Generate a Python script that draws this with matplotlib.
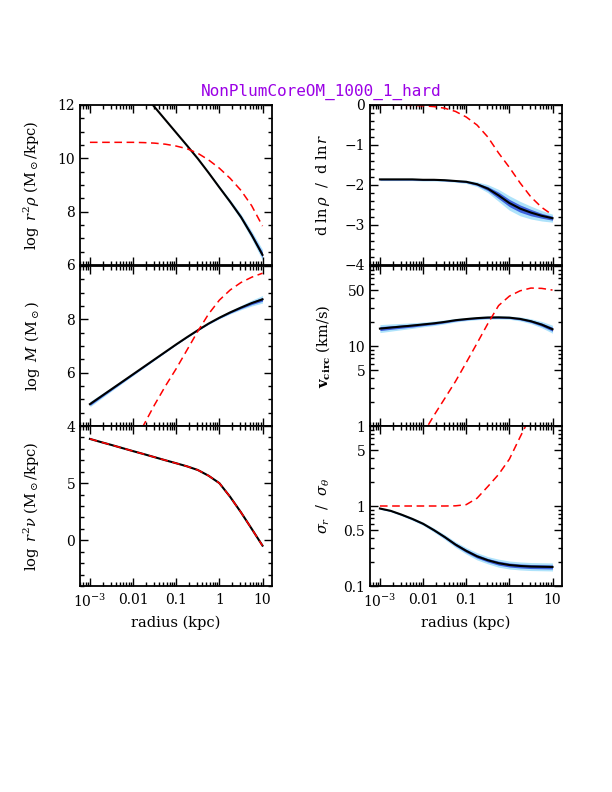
import numpy as np
import matplotlib.pyplot as plt
from matplotlib.ticker import FixedLocator, FixedFormatter, MultipleLocator, NullFormatter

plt.rcParams['font.family'] = ['DejaVu Serif']
plt.rcParams['mathtext.fontset'] = 'dejavuserif'

titulo = 'NonPlumCoreOM_1000_1_hard'

# radios de muestreo (log kpc)
log_radio = [-3.0, -2.75, -2.5, -2.25, -2.0, -1.75, -1.5, -1.25, -1.0,
             -0.75, -0.5, -0.25, 0.0, 0.25, 0.5, 0.75, 1.0]

# log r^2 rho
rho_ajuste = [14.8, 14.32, 13.84, 13.36, 12.88, 12.40, 11.92, 11.44, 10.96,
              10.48, 9.99, 9.46, 8.91, 8.37, 7.80, 7.12, 6.38]
rho_modelo = [10.6, 10.6, 10.6, 10.6, 10.6, 10.59, 10.57, 10.53, 10.46,
              10.36, 10.19, 9.94, 9.63, 9.25, 8.80, 8.22, 7.46]
rho_2s = [0.02, 0.02, 0.02, 0.02, 0.02, 0.02, 0.02, 0.02, 0.02,
          0.02, 0.02, 0.03, 0.05, 0.08, 0.11, 0.15, 0.20]
rho_1s = [0.01, 0.01, 0.01, 0.01, 0.01, 0.01, 0.01, 0.01, 0.01,
          0.01, 0.01, 0.015, 0.025, 0.04, 0.055, 0.075, 0.10]

# pendiente d ln rho / d ln r
pend_ajuste = [-1.86, -1.86, -1.86, -1.86, -1.87, -1.87, -1.88, -1.90, -1.92,
               -1.98, -2.09, -2.26, -2.45, -2.59, -2.69, -2.77, -2.83]
pend_modelo = [0.0, 0.0, -0.005, -0.01, -0.02, -0.04, -0.08, -0.16, -0.30,
               -0.50, -0.80, -1.20, -1.56, -1.95, -2.30, -2.56, -2.75]
pend_2s = [0.03, 0.03, 0.03, 0.03, 0.03, 0.03, 0.03, 0.03, 0.04,
           0.06, 0.10, 0.15, 0.18, 0.18, 0.16, 0.13, 0.10]
pend_1s = [0.015, 0.015, 0.015, 0.015, 0.015, 0.015, 0.015, 0.015, 0.02,
           0.03, 0.05, 0.08, 0.09, 0.09, 0.08, 0.06, 0.05]

# log M
masa_ajuste = [4.82, 5.10, 5.38, 5.66, 5.94, 6.22, 6.50, 6.78, 7.06,
               7.33, 7.59, 7.84, 8.06, 8.26, 8.44, 8.61, 8.75]
masa_modelo = [0.3, 1.05, 1.8, 2.55, 3.3, 4.05, 4.8, 5.5, 6.15,
               6.85, 7.55, 8.2, 8.72, 9.1, 9.38, 9.58, 9.73]
masa_2s = [0.10, 0.085, 0.07, 0.06, 0.05, 0.04, 0.03, 0.025, 0.02,
           0.02, 0.02, 0.03, 0.04, 0.06, 0.08, 0.11, 0.14]
masa_1s = [0.05, 0.04, 0.035, 0.03, 0.025, 0.02, 0.015, 0.012, 0.01,
           0.01, 0.01, 0.015, 0.02, 0.03, 0.04, 0.055, 0.07]

# v circ (km/s)
vcirc_ajuste = [16.5, 17.0, 17.5, 18.0, 18.6, 19.2, 20.0, 21.0, 21.7,
                22.3, 22.7, 22.8, 22.6, 21.8, 20.4, 18.5, 16.2]
vcirc_modelo = [0.09, 0.155, 0.27, 0.47, 0.8, 1.35, 2.2, 3.6, 6.2,
                10.8, 19.0, 32.0, 42.0, 49.0, 53.0, 52.5, 50.0]
vcirc_2s = [0.05, 0.045, 0.04, 0.035, 0.03, 0.028, 0.025, 0.022, 0.02,
            0.02, 0.02, 0.02, 0.02, 0.025, 0.03, 0.04, 0.05]
vcirc_1s = [0.025, 0.022, 0.02, 0.018, 0.015, 0.014, 0.012, 0.011, 0.01,
            0.01, 0.01, 0.01, 0.01, 0.012, 0.015, 0.02, 0.025]

# log r^2 nu (trazadores)
nu_ajuste = [8.87, 8.60, 8.34, 8.07, 7.80, 7.54, 7.27, 7.00, 6.74,
             6.47, 6.15, 5.65, 5.0, 3.8, 2.45, 1.0, -0.47]
nu_modelo = [8.87, 8.60, 8.34, 8.07, 7.80, 7.54, 7.27, 7.00, 6.74,
             6.47, 6.15, 5.65, 5.0, 3.8, 2.45, 1.0, -0.47]

# sigma_r / sigma_theta
aniso_ajuste = [0.93, 0.87, 0.78, 0.69, 0.60, 0.50, 0.41, 0.33, 0.275,
                0.235, 0.21, 0.193, 0.183, 0.178, 0.175, 0.174, 0.173]
aniso_modelo = [1.0, 1.0, 1.0, 1.0, 1.0, 1.0, 1.0, 1.005, 1.04,
                1.25, 1.75, 2.48, 3.85, 7.3, 13.5, 23.0, 40.0]
aniso_2s = [0.01, 0.012, 0.015, 0.018, 0.02, 0.025, 0.03, 0.035, 0.04,
            0.045, 0.045, 0.05, 0.05, 0.05, 0.05, 0.05, 0.05]
aniso_1s = [0.005, 0.006, 0.008, 0.009, 0.01, 0.012, 0.015, 0.018, 0.02,
            0.022, 0.022, 0.025, 0.025, 0.025, 0.025, 0.025, 0.025]

AZUL_CLARO = '#aee3fb'
AZUL_OSCURO = '#3f63dd'


def dibujar_panel(ax, ajuste, modelo, ancho2=None, ancho1=None, logy=False):
    """
        Dibuja bandas de confianza, ajuste (negro) y modelo (rojo discontinuo)
    """
    r = 10 ** np.array(log_radio)
    y = np.array(ajuste)
    if ancho2 is not None:
        w2, w1 = np.array(ancho2), np.array(ancho1)
        if logy:
            ax.fill_between(r, y * 10 ** -w2, y * 10 ** w2, color=AZUL_CLARO, lw=0)
            ax.fill_between(r, y * 10 ** -w1, y * 10 ** w1, color=AZUL_OSCURO, lw=0)
        else:
            ax.fill_between(r, y - w2, y + w2, color=AZUL_CLARO, lw=0)
            ax.fill_between(r, y - w1, y + w1, color=AZUL_OSCURO, lw=0)
    ax.plot(r, y, color='black', lw=1.5)
    ax.plot(r, modelo, color='red', lw=1.1, ls=(0, (5, 3)))

    ax.set_xscale('log')
    ax.set_xlim(10 ** -3.23, 10 ** 1.22)
    ax.xaxis.set_major_locator(FixedLocator([1e-3, 1e-2, 1e-1, 1, 10]))
    ax.xaxis.set_minor_locator(FixedLocator(
        [m * 10.0 ** e for e in range(-4, 2) for m in range(2, 10)]))
    ax.xaxis.set_minor_formatter(NullFormatter())
    ax.tick_params(which='both', direction='in', top=True, right=True,
                   labelsize=10, width=1.0)
    ax.tick_params(which='major', length=6)
    ax.tick_params(which='minor', length=3)
    for s in ax.spines.values():
        s.set_linewidth(1.3)


def ticks_y(ax, mayores, etiquetas, menor=None, menores=None):
    ax.yaxis.set_major_locator(FixedLocator(mayores))
    ax.yaxis.set_major_formatter(FixedFormatter(etiquetas))
    if menor is not None:
        ax.yaxis.set_minor_locator(MultipleLocator(menor))
    if menores is not None:
        ax.yaxis.set_minor_locator(FixedLocator(menores))
    ax.yaxis.set_minor_formatter(NullFormatter())


def main():
    fig = plt.figure(figsize=(6.12, 7.92), dpi=100)

    ancho = 192 / 612
    alto = 160 / 792
    x_izq, x_der = 80 / 612, 370 / 612
    filas = [1 - 265 / 792, 1 - 426 / 792, 1 - 586 / 792]

    ax1 = fig.add_axes([x_izq, filas[0], ancho, alto])
    ax2 = fig.add_axes([x_izq, filas[1], ancho, alto])
    ax3 = fig.add_axes([x_izq, filas[2], ancho, alto])
    ax4 = fig.add_axes([x_der, filas[0], ancho, alto])
    ax5 = fig.add_axes([x_der, filas[1], ancho, alto])
    ax6 = fig.add_axes([x_der, filas[2], ancho, alto])

    dibujar_panel(ax1, rho_ajuste, rho_modelo, rho_2s, rho_1s)
    ax1.set_ylim(6, 12)
    ticks_y(ax1, [6, 8, 10, 12], ['6', '8', '10', '12'], menor=0.5)
    ax1.set_ylabel(r'$\log\ r^2\rho\ ({\rm M}_\odot/{\rm kpc})$', fontsize=10.5)

    dibujar_panel(ax2, masa_ajuste, masa_modelo, masa_2s, masa_1s)
    ax2.set_ylim(4, 10)
    ticks_y(ax2, [4, 6, 8, 10], ['4', '6', '8', ''], menor=0.5)
    ax2.set_ylabel(r'$\log\ M\ ({\rm M}_\odot)$', fontsize=10.5)

    dibujar_panel(ax3, nu_ajuste, nu_modelo)
    ax3.set_ylim(-4, 10)
    ticks_y(ax3, [0, 5, 10], ['0', '5', ''], menor=1)
    ax3.set_ylabel(r'$\log\ r^2\nu\ ({\rm M}_\odot/{\rm kpc})$', fontsize=10.5)

    dibujar_panel(ax4, pend_ajuste, pend_modelo, pend_2s, pend_1s)
    ax4.set_ylim(-4, 0)
    ticks_y(ax4, [-4, -3, -2, -1, 0],
            ['\u22124', '\u22123', '\u22122', '\u22121', '0'], menor=0.2)
    ax4.set_ylabel(r'${\rm d}\ \ln\rho\ \ /\ \ {\rm d}\ \ln r$', fontsize=10.5)

    menores_log = [m * 10.0 ** e for e in range(-2, 3) for m in (2, 3, 4, 6, 7, 8, 9)]

    dibujar_panel(ax5, vcirc_ajuste, vcirc_modelo, vcirc_2s, vcirc_1s, logy=True)
    ax5.set_yscale('log')
    ax5.set_ylim(1, 100)
    ticks_y(ax5, [1, 5, 10, 50, 100], ['1', '5', '10', '50', ''], menores=menores_log)
    ax5.set_ylabel(r'$\mathbf{v_{circ}}\ ({\rm km/s})$', fontsize=10.5)

    dibujar_panel(ax6, aniso_ajuste, aniso_modelo, aniso_2s, aniso_1s, logy=True)
    ax6.set_yscale('log')
    ax6.set_ylim(0.1, 10)
    ticks_y(ax6, [0.1, 0.5, 1, 5, 10], ['0.1', '0.5', '1', '5', ''], menores=menores_log)
    ax6.set_ylabel(r'$\sigma_r\ \ /\ \ \sigma_\theta$', fontsize=10.5)

    etiquetas_x = [r'$10^{-3}$', '0.01', '0.1', '1', '10']
    for ax in (ax1, ax2, ax4, ax5):
        ax.xaxis.set_major_formatter(NullFormatter())
    for ax in (ax3, ax6):
        ax.xaxis.set_major_formatter(FixedFormatter(etiquetas_x))
        ax.set_xlabel('radius (kpc)', fontsize=10.5)
        ax.tick_params(axis='x', pad=5)

    for ax in (ax1, ax2, ax3, ax4, ax5, ax6):
        ax.yaxis.set_label_coords(-0.2, 0.5)

    fig.text(321 / 612, 1 - 92 / 792, titulo, color='#9b00e6',
             fontsize=11.5, family='DejaVu Sans Mono', ha='center', va='center')

    fig.savefig('out.png', dpi=100)


if __name__ == '__main__':
    main()
